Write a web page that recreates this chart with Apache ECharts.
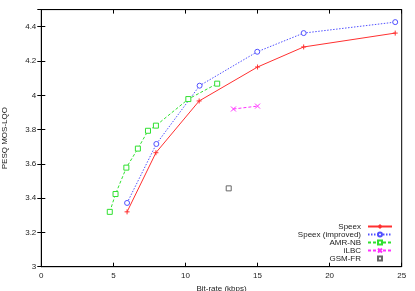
<!DOCTYPE html>
<html><head><meta charset="utf-8">
<script src="https://cdn.jsdelivr.net/npm/echarts@6/dist/echarts.min.js"></script>
<style>html,body{margin:0;padding:0;background:#fff}#c{width:415px;height:291px}</style>
</head><body><div id="c"></div>
<script>
const speex = [[5.95,3.32],[7.95,3.665],[10.95,3.967],[15.0,4.165],[18.2,4.282],[24.55,4.363]];
const speexImproved = [[5.95,3.372],[7.98,3.716],[10.98,4.056],[14.98,4.254],[18.2,4.363],[24.55,4.427]];
const amrNb = [[4.75,3.32],[5.15,3.424],[5.9,3.578],[6.7,3.689],[7.4,3.793],[7.95,3.823],[10.2,3.978],[12.2,4.068]];
const ilbc = [[13.33,3.92],[15.0,3.937]];
const gsmFr = [[13.0,3.457]];
const xTicks = [0,5,10,15,20,25];

const plus = 'path://M5,0L5,10M0,5L10,5';
const cross = 'path://M0,0L10,10M10,0L0,10';
const font = 'Liberation Sans';

const chart = echarts.init(document.getElementById('c'));
function lineSeries(name, data, color, symbol, lineType, size, noLine){
  return {name, type:'line', data, symbol, symbolSize:size, showSymbol:true,
    lineStyle:{color, width:1, type:lineType, opacity:noLine?0:1},
    itemStyle:{color:symbol.startsWith('path')?color:'#fff', borderColor:color, borderWidth:1},
    emphasis:{disabled:true}, animation:false, z:3};
}
chart.setOption({
  animation:false,
  textStyle:{fontFamily:font},
  grid:{left:41.3, right:13.3, top:9.6, bottom:24.3, show:true, borderColor:'#000', borderWidth:1, outerBoundsMode:'none', containLabel:false},
  legend:{
    orient:'vertical', right:22, top:222.5, align:'right', itemGap:0,
    itemWidth:24, itemHeight:5, padding:0,
    textStyle:{fontFamily:font, fontSize:8, lineHeight:7.7, color:'#222', padding:[0,2,0,0]},
    data:['Speex','Speex (improved)','AMR-NB','iLBC','GSM-FR']
  },
  xAxis:[{
    type:'value', min:0, max:25, interval:5,
    name:'Bit-rate (kbps)', nameLocation:'middle', nameGap:18, nameMoveOverlap:false,
    nameTextStyle:{fontFamily:font, fontSize:8, color:'#222'},
    axisLine:{lineStyle:{color:'#000', width:1}},
    axisTick:{inside:true, length:4, lineStyle:{color:'#000'}},
    axisLabel:{fontFamily:font, fontSize:8, color:'#222', margin:5},
    splitLine:{show:false}
  },{
    type:'value', position:'top', min:0, max:25, interval:5,
    axisLine:{lineStyle:{color:'#000'}},
    axisTick:{inside:true, length:4, lineStyle:{color:'#000'}},
    axisLabel:{show:false}, splitLine:{show:false}
  }],
  yAxis:[{
    type:'value', min:3, max:4.5, interval:0.2,
    name:'PESQ MOS-LQO', nameLocation:'middle', nameGap:33, nameRotate:90, nameMoveOverlap:false,
    nameTextStyle:{fontFamily:font, fontSize:8, color:'#222'},
    axisLine:{lineStyle:{color:'#000', width:1}},
    axisTick:{inside:true, length:4, lineStyle:{color:'#000'}},
    axisLabel:{fontFamily:font, fontSize:8, color:'#222', margin:5, showMaxLabel:false},
    splitLine:{show:false}
  },{
    type:'value', position:'right', min:3, max:4.5, interval:0.2,
    axisLine:{lineStyle:{color:'#000'}},
    axisTick:{inside:true, length:4, lineStyle:{color:'#000'}},
    axisLabel:{show:false}, splitLine:{show:false}
  }],
  series:[
    lineSeries('Speex', speex, '#ff3030', plus, 'solid', 5),
    lineSeries('Speex (improved)', speexImproved, '#5050ff', 'circle', [1.5,1.5], 5),
    lineSeries('AMR-NB', amrNb, '#30e030', 'rect', [3,2], 5),
    lineSeries('iLBC', ilbc, '#ff30ff', cross, [3,2], 5),
    lineSeries('GSM-FR', gsmFr, '#666', 'rect', 'solid', 5, true)
  ]
});
</script></body></html>
